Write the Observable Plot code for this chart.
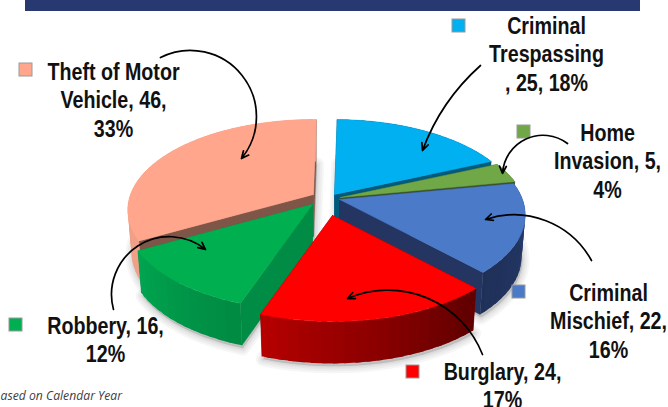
<!DOCTYPE html>
<html>
<head>
<meta charset="utf-8">
<style>
html,body{margin:0;padding:0;background:#fff;overflow:hidden}
svg{display:block}
</style>
<script src="https://cdn.jsdelivr.net/npm/d3@7"></script>
<script src="https://cdn.jsdelivr.net/npm/@observablehq/plot@0.6"></script>
</head>
<body>
<div id="chart"></div>
<script>
// Data, clockwise from twelve o'clock
const categories = ["Criminal Trespassing","Home Invasion","Criminal Mischief","Burglary","Robbery","Theft of Motor Vehicle"];
const values = [25,5,22,24,16,46];
const labelLines = [
  "Criminal\nTrespassing\n, 25, 18%",
  "Home\nInvasion, 5,\n4%",
  "Criminal\nMischief, 22,\n16%",
  "Burglary, 24,\n17%",
  "Robbery, 16,\n12%",
  "Theft of Motor\nVehicle, 46,\n33%"
];
const footnote = "ased on Calendar Year";

// Styling
const topColors  = ["#00B0F0","#70A848","#4A7AC8","#FF0000","#00B050","#FFA68C"];
const faceColors = ["#005A7C","#384F24","#233560","#800000","#008C45","#7F5548"];
const wallStart  = ["#005A7C","#384F24","#263C6C","#600000","#008A42","#F0A088"];
const wallEnd    = ["#005A7C","#384F24","#1F3058","#B80000","#00A650","#E89A80"];
const drawOrder  = [5,0,1,2,4,3];

// Layout
const apexX = [334,340,339,332,312,313];
const apexY = [194,197,199,215,204,194];
const labelX = [546,607,608,502,105,113];
const labelY = [26,133,293,372,326,72];
const squareX = [452,517,512,406,9,19];
const squareY = [19,125,285,365,318,63];
const arrowFrom = [[480,65],[567,143],[591,260],[482,354],[113,309],[160,57]];
const arrowTo   = [[422,150],[502,173],[485,219],[347,298],[205,249],[241,158]];
const arrowBend = [-14,-62,-40,-46,72,78];
const R = 183, K = 87.8, P = 0.171, DEPTH = 42, BOTTOM_X = 0.98, ROT = 1*Math.PI/180;

const total = d3.sum(values);
let cum = 0;
const slices = values.map((v,i)=>{
  const a0 = cum/total*2*Math.PI+ROT; cum += v;
  return {i, a0, a1: cum/total*2*Math.PI+ROT};
});
function pt(i,a,down=false){
  const u=Math.sin(a), v=Math.cos(a), s=1/(1+P*v);
  return [apexX[i]+R*u*s*(down?BOTTOM_X:1), apexY[i]-K*v*s+(down?DEPTH:0)];
}
const apex=(i,down=false)=>[apexX[i],apexY[i]+(down?DEPTH:0)];
const polys=[], shadow=[];
let pid=0;
function addPoly(points,color,stroked){
  const id=pid++;
  [...points,points[0]].forEach(p=>polys.push({id,x:p[0],y:p[1],fill:color,stroke:stroked?color:"none"}));
}
const STEP=3*Math.PI/180;
for(const k of drawOrder){
  const {i,a0,a1}=slices[k];
  const n=Math.ceil((a1-a0)/STEP);
  const da=(a1-a0)/n;
  for(const a of [a0,a1]) addPoly([apex(i),pt(i,a),pt(i,a,true),apex(i,true)],faceColors[i],true);
  const mix=d3.interpolateRgb(wallStart[i],wallEnd[i]);
  for(let j=n-1;j>=0;j--){
    const b0=a0+da*j, b1=Math.min(a1,a0+da*(j+1.5));
    addPoly([pt(i,b0),pt(i,b0+(b1-b0)/2),pt(i,b1),pt(i,b1,true),pt(i,b0+(b1-b0)/2,true),pt(i,b0,true)],mix((j+.5)/n),false);
  }
  const top=[apex(i)];
  for(let j=0;j<=n;j++) top.push(pt(i,a0+da*j));
  addPoly(top,topColors[i],true);
  // soft ground shadow from the slice's lower outline
  const base=[apex(i,true)];
  for(let j=0;j<=n;j++){const p=pt(i,a0+da*j,true);base.push(p);}
  base.push(apex(i,true));
  base.forEach(p=>shadow.push({id:i,x:p[0]+1,y:p[1]+3}));
}

const labels=categories.map((c,i)=>({c,text:labelLines[i],x:labelX[i],y:labelY[i]}));
const squares=categories.map((c,i)=>({c,x:squareX[i],y:squareY[i],fill:topColors[i]}));

const textFont={fontFamily:"'Liberation Sans',Arial,sans-serif",fontWeight:"bold",fontSize:23,fill:"#111"};
const shadowWidths=[14,10,6,3];

const plot=Plot.plot({
  width:668,height:407,margin:0,
  x:{domain:[0,668],range:[0,668],axis:null},
  y:{domain:[0,407],range:[0,407],axis:null},
  marks:[
    Plot.rect([{x1:25,x2:640,y1:0,y2:11}],{x1:"x1",x2:"x2",y1:"y1",y2:"y2",fill:"#283870"}),
    ...shadowWidths.map(w=>Plot.line(shadow,{x:"x",y:"y",z:"id",stroke:"#000",strokeOpacity:0.035,strokeWidth:w,fill:"#000",fillOpacity:0.035,curve:"linear"})),
    Plot.line(polys,{x:"x",y:"y",z:"id",fill:"fill",stroke:"stroke",strokeWidth:0.5,curve:"linear"}),
    Plot.rect(squares,{x1:"x",x2:d=>d.x+13,y1:"y",y2:d=>d.y+13,fill:"fill",stroke:"#9a9a9a",strokeWidth:1}),
    ...arrowFrom.map((f,i)=>Plot.arrow([{f,t:arrowTo[i]}],{
      x1:d=>d.f[0],y1:d=>d.f[1],x2:d=>d.t[0],y2:d=>d.t[1],
      bend:arrowBend[i],stroke:"#000",strokeWidth:1.7,headLength:7,headAngle:50
    })),
    Plot.text(labels,{x:"x",y:"y",text:"text",textAnchor:"middle",lineHeight:1.22,lineAnchor:"top",dy:-12,...textFont}),
    Plot.text([footnote],{x:0,y:396,text:d=>d,textAnchor:"start",fontFamily:"'Open Sans',sans-serif",fontStyle:"italic",fontSize:12.2,fill:"#404040"})
  ]
});
document.getElementById("chart").appendChild(plot);
// Narrow the bold labels, as in the reference
plot.querySelectorAll("text tspan").forEach(t=>{
  const w=t.getComputedTextLength();
  t.setAttribute("textLength",w*0.855);
  t.setAttribute("lengthAdjust","spacingAndGlyphs");
});
</script>
</body>
</html>
